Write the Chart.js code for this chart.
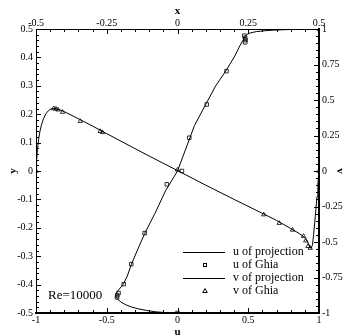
<!DOCTYPE html>
<html>
<head>
<meta charset="utf-8">
<script src="https://cdn.jsdelivr.net/npm/chart.js@4"></script>
<style>
  body { margin: 0; background: #fff; }
</style>
</head>
<body>
<canvas id="myChart" width="347" height="335"></canvas>
<script>
// tick labels
var uTicks = [-1, -0.5, 0, 0.5, 1];
var yTicks = [-0.5, -0.4, -0.3, -0.2, -0.1, 0, 0.1, 0.2, 0.3, 0.4, 0.5];
var xTicks = [-0.5, -0.25, 0, 0.25, 0.5];
var vTicks = [-1, -0.75, -0.5, -0.25, 0, 0.25, 0.5, 0.75, 1];

// u along the vertical centre line (projection)
var uLineY = [-0.5, -0.499, -0.496, -0.491, -0.485, -0.478, -0.47, -0.461, -0.452, -0.443, -0.434, -0.424, -0.412, -0.398, -0.37, -0.33, -0.275, -0.22, -0.15, -0.07, 0, 0.08, 0.16, 0.235, 0.3, 0.355, 0.405, 0.44, 0.46, 0.472, 0.481, 0.487, 0.491, 0.494, 0.496, 0.498, 0.499, 0.5];
var uLineU = [0, -0.07, -0.15, -0.22, -0.28, -0.33, -0.37, -0.4, -0.422, -0.433, -0.434, -0.425, -0.405, -0.382, -0.355, -0.327, -0.28, -0.232, -0.16, -0.085, 0.0, 0.06, 0.12, 0.2, 0.27, 0.345, 0.405, 0.44, 0.462, 0.475, 0.49, 0.52, 0.56, 0.62, 0.68, 0.78, 0.88, 1];

// u of Ghia
var uGhiaY = [0.5, 0.4766, 0.4688, 0.4609, 0.4531, 0.3516, 0.2344, 0.1172, 0, -0.0469, -0.2187, -0.3281, -0.3984, -0.4297, -0.4375, -0.4453, -0.5];
var uGhiaU = [1, 0.47221, 0.47783, 0.4807, 0.47804, 0.34635, 0.20673, 0.08344, 0.03111, -0.0754, -0.23186, -0.32709, -0.38, -0.41657, -0.42537, -0.42735, 0];

// v along the horizontal centre line (projection)
var vLineX = [-0.5, -0.498, -0.495, -0.491, -0.486, -0.48, -0.473, -0.465, -0.456, -0.447, -0.438, -0.428, -0.415, -0.4, -0.35, -0.3, -0.25, -0.2, -0.1, 0, 0.1, 0.2, 0.3, 0.35, 0.4, 0.43, 0.45, 0.46, 0.467, 0.472, 0.477, 0.481, 0.485, 0.489, 0.493, 0.496, 0.498, 0.5];
var vLineV = [0, 0.07, 0.15, 0.22, 0.28, 0.33, 0.37, 0.403, 0.425, 0.437, 0.44, 0.438, 0.43, 0.418, 0.368, 0.316, 0.263, 0.21, 0.105, 0.003, -0.1, -0.2, -0.298, -0.348, -0.405, -0.44, -0.47, -0.5, -0.53, -0.545, -0.52, -0.45, -0.36, -0.27, -0.18, -0.1, -0.04, 0];

// v of Ghia
var vGhiaX = [0.5, 0.4688, 0.4609, 0.4531, 0.4453, 0.4063, 0.3594, 0.3047, 0, -0.2656, -0.2734, -0.3437, -0.4062, -0.4219, -0.4297, -0.4375, -0.5];
var vGhiaV = [0, -0.54302, -0.52987, -0.49099, -0.45863, -0.41496, -0.36737, -0.30719, 0.00831, 0.27224, 0.28003, 0.3507, 0.41487, 0.43124, 0.43733, 0.43983, 0];

var serif = 'Liberation Serif';

function pairs(xs, ys) {
    return xs.map(function (x, i) { return { x: x, y: ys[i] }; });
}

function axis(pos, min, max, list, size, title, titlePad, borderW, labelPad) {
    return {
        type: 'linear',
        position: pos,
        min: min,
        max: max,
        grid: { display: false, drawTicks: false },
        border: { display: true, color: '#000', width: borderW },
        ticks: {
            color: '#000',
            font: { family: serif, size: 10 },
            padding: labelPad,
            maxRotation: 0,
            autoSkip: false,
            callback: function (v) { return String(v); }
        },
        title: {
            display: true,
            text: title,
            color: '#000',
            font: { family: serif, size: 11, weight: 'bold', lineHeight: 1 },
            padding: titlePad
        },
        afterBuildTicks: function (s) {
            s.ticks = list.map(function (v) { return { value: v }; });
        },
        afterFit: function (s) {
            if (pos === 'top' || pos === 'bottom') s.height = size; else s.width = size;
            s.paddingLeft = s.paddingRight = s.paddingTop = s.paddingBottom = 0;
        }
    };
}

// inward major / minor ticks, legend and the Re label
var decor = {
    id: 'decor',
    afterDraw: function (chart) {
        var ctx = chart.ctx, a = chart.chartArea, sc = chart.scales;
        ctx.save();
        ctx.strokeStyle = '#000';
        ctx.lineWidth = 1;
        function ticks(s, step, majors, side) {
            var n = Math.round((s.max - s.min) / step);
            for (var i = 0; i <= n; i++) {
                var v = s.min + i * step;
                var isMajor = majors.some(function (m) { return Math.abs(m - v) < 1e-6; });
                var len = isMajor ? 5 : 3;
                var p = Math.round(s.getPixelForValue(v)) + 0.5;
                ctx.beginPath();
                if (side === 'bottom') { ctx.moveTo(p, a.bottom); ctx.lineTo(p, a.bottom - len); }
                if (side === 'top') { ctx.moveTo(p, a.top); ctx.lineTo(p, a.top + len); }
                if (side === 'left') { ctx.moveTo(a.left, p); ctx.lineTo(a.left + len, p); }
                if (side === 'right') { ctx.moveTo(a.right, p); ctx.lineTo(a.right - len, p); }
                ctx.stroke();
            }
        }
        ticks(sc.u, 0.1, uTicks, 'bottom');
        ticks(sc.x, 0.05, xTicks, 'top');
        ticks(sc.y, 0.02, yTicks, 'left');
        ticks(sc.v, 0.05, vTicks, 'right');

        // legend
        var ds = chart.data.datasets;
        var lx = 183, tx = 233, ly = 252;
        ctx.fillStyle = '#000';
        ctx.font = '12px ' + serif;
        ctx.textBaseline = 'middle';
        ctx.textAlign = 'left';
        ds.forEach(function (d, i) {
            var y = ly + i * 13;
            if (d.showLine) {
                ctx.beginPath();
                ctx.moveTo(lx, y + 0.5);
                ctx.lineTo(lx + 42, y + 0.5);
                ctx.stroke();
            } else if (d.pointStyle === 'rect') {
                ctx.strokeRect(203.5, y - 1.5, 3, 3);
            } else {
                ctx.beginPath();
                ctx.moveTo(205, y - 2.5);
                ctx.lineTo(207.3, y + 1.5);
                ctx.lineTo(202.7, y + 1.5);
                ctx.closePath();
                ctx.stroke();
            }
            ctx.fillText(d.label, tx, y);
        });

        ctx.font = '13px ' + serif;
        ctx.fillText('Re=10000', a.left + 12, 296);
        ctx.restore();
    }
};

var cvas = document.getElementById('myChart').getContext('2d');
var myChart = new Chart(cvas, {
    type: 'scatter',
    data: {
        datasets: [{
            label: 'u of projection',
            data: pairs(uLineU, uLineY),
            xAxisID: 'u',
            yAxisID: 'y',
            showLine: true,
            borderColor: '#000',
            borderWidth: 1,
            pointRadius: 0,
            tension: 0
        },
        {
            label: 'u of Ghia',
            data: pairs(uGhiaU, uGhiaY),
            xAxisID: 'u',
            yAxisID: 'y',
            pointStyle: 'rect',
            pointRadius: 2.5,
            borderColor: '#000',
            borderWidth: 0.8,
            backgroundColor: 'rgba(0,0,0,0)'
        },
        {
            label: 'v of projection',
            data: pairs(vLineX, vLineV),
            xAxisID: 'x',
            yAxisID: 'v',
            showLine: true,
            borderColor: '#000',
            borderWidth: 1,
            pointRadius: 0,
            tension: 0
        },
        {
            label: 'v of Ghia',
            data: pairs(vGhiaX, vGhiaV),
            xAxisID: 'x',
            yAxisID: 'v',
            pointStyle: 'triangle',
            pointRadius: 2.5,
            borderColor: '#000',
            borderWidth: 0.8,
            backgroundColor: 'rgba(0,0,0,0)'
        }]
    },
    options: {
        responsive: false,
        animation: false,
        devicePixelRatio: 1,
        layout: { padding: 0, autoPadding: false },
        plugins: {
            legend: { display: false },
            tooltip: { enabled: false }
        },
        scales: {
            u: axis('bottom', -1, 1, uTicks, 22, 'u', { top: 0, bottom: -3 }, 2, 1),
            y: axis('left', -0.5, 0.5, yTicks, 36, 'y', { top: 8, bottom: 0 }, 1, 3),
            x: axis('top', -0.5, 0.5, xTicks, 29, 'x', { top: 6, bottom: 0 }, 1, 0),
            v: axis('right', -1, 1, vTicks, 28, 'v', { top: 2, bottom: 0 }, 2, 3)
        }
    },
    plugins: [decor]
});
</script>
</body>
</html>
